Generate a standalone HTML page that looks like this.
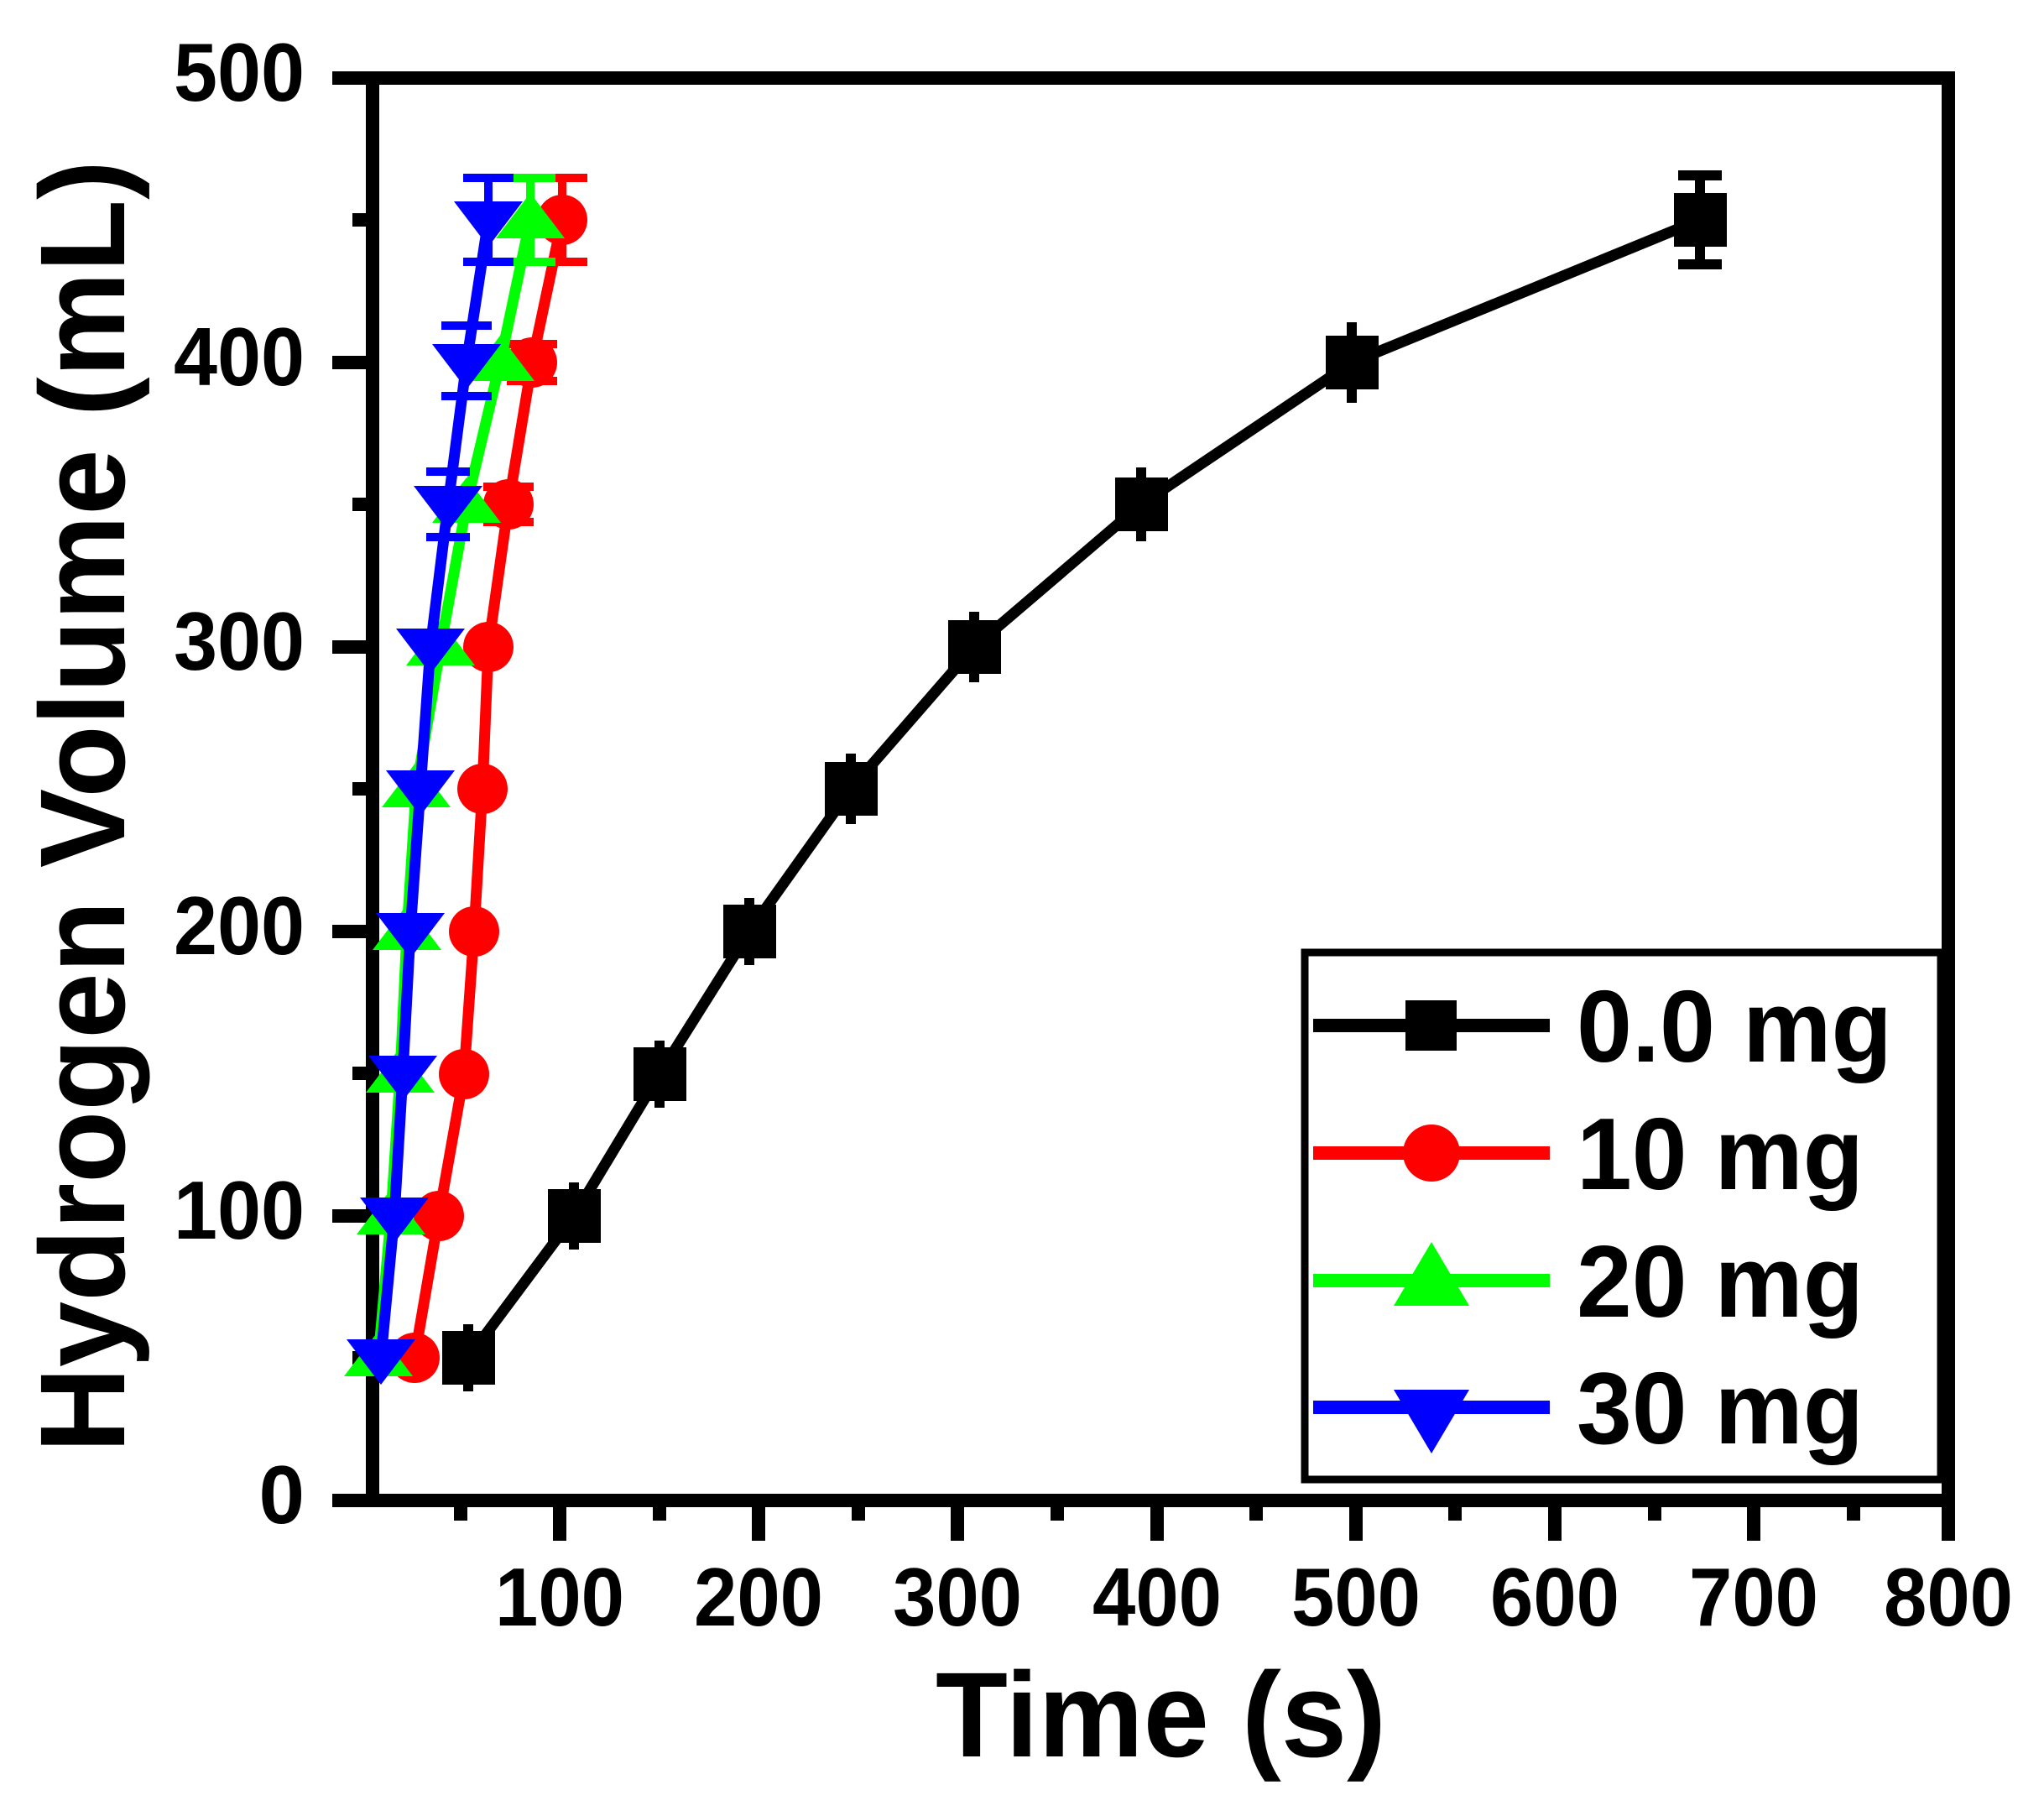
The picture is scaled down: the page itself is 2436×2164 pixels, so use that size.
<!DOCTYPE html>
<html><head><meta charset="utf-8"><style>
html,body{margin:0;padding:0;background:#fff;}
svg{display:block;}
text{font-family:"Liberation Sans",Arial,sans-serif;font-weight:bold;fill:#000;}
</style></head><body>
<svg width="2436" height="2164" viewBox="0 0 2436 2164" xmlns="http://www.w3.org/2000/svg">
<rect width="2436" height="2164" fill="#fff"/>
<rect x="444" y="93" width="1878" height="1695" fill="none" stroke="#000" stroke-width="16"/>
<g stroke="#000" stroke-width="16">
<line x1="396" y1="1788" x2="444" y2="1788"/>
<line x1="396" y1="1449" x2="444" y2="1449"/>
<line x1="396" y1="1110" x2="444" y2="1110"/>
<line x1="396" y1="771" x2="444" y2="771"/>
<line x1="396" y1="432" x2="444" y2="432"/>
<line x1="396" y1="93" x2="444" y2="93"/>
<line x1="420" y1="1618" x2="444" y2="1618"/>
<line x1="420" y1="1279" x2="444" y2="1279"/>
<line x1="420" y1="940" x2="444" y2="940"/>
<line x1="420" y1="601" x2="444" y2="601"/>
<line x1="420" y1="262" x2="444" y2="262"/>
<line x1="667" y1="1788" x2="667" y2="1836"/>
<line x1="904" y1="1788" x2="904" y2="1836"/>
<line x1="1141" y1="1788" x2="1141" y2="1836"/>
<line x1="1379" y1="1788" x2="1379" y2="1836"/>
<line x1="1616" y1="1788" x2="1616" y2="1836"/>
<line x1="1853" y1="1788" x2="1853" y2="1836"/>
<line x1="2090" y1="1788" x2="2090" y2="1836"/>
<line x1="2322" y1="1788" x2="2322" y2="1836"/>
<line x1="549" y1="1788" x2="549" y2="1812"/>
<line x1="786" y1="1788" x2="786" y2="1812"/>
<line x1="1023" y1="1788" x2="1023" y2="1812"/>
<line x1="1260" y1="1788" x2="1260" y2="1812"/>
<line x1="1497" y1="1788" x2="1497" y2="1812"/>
<line x1="1734" y1="1788" x2="1734" y2="1812"/>
<line x1="1972" y1="1788" x2="1972" y2="1812"/>
<line x1="2209" y1="1788" x2="2209" y2="1812"/>
</g>
<g font-size="98" text-anchor="end">
<text x="363" y="1815">0</text>
<text x="363" y="1476" textLength="156" lengthAdjust="spacingAndGlyphs">100</text>
<text x="363" y="1137" textLength="156" lengthAdjust="spacingAndGlyphs">200</text>
<text x="363" y="798" textLength="156" lengthAdjust="spacingAndGlyphs">300</text>
<text x="363" y="459" textLength="156" lengthAdjust="spacingAndGlyphs">400</text>
<text x="363" y="120" textLength="156" lengthAdjust="spacingAndGlyphs">500</text>
</g>
<g font-size="98" text-anchor="middle">
<text x="667" y="1937" textLength="154" lengthAdjust="spacingAndGlyphs">100</text>
<text x="904" y="1937" textLength="154" lengthAdjust="spacingAndGlyphs">200</text>
<text x="1141" y="1937" textLength="154" lengthAdjust="spacingAndGlyphs">300</text>
<text x="1379" y="1937" textLength="154" lengthAdjust="spacingAndGlyphs">400</text>
<text x="1616" y="1937" textLength="154" lengthAdjust="spacingAndGlyphs">500</text>
<text x="1853" y="1937" textLength="154" lengthAdjust="spacingAndGlyphs">600</text>
<text x="2090" y="1937" textLength="154" lengthAdjust="spacingAndGlyphs">700</text>
<text x="2322" y="1937" textLength="154" lengthAdjust="spacingAndGlyphs">800</text>
</g>
<text x="1115" y="2093" font-size="144" textLength="537" lengthAdjust="spacingAndGlyphs">Time (s)</text>
<text transform="translate(148,961) rotate(-90)" x="0" y="0" font-size="144" text-anchor="middle" textLength="1540" lengthAdjust="spacingAndGlyphs">Hydrogen Volume (mL)</text>

<!-- black -->
<polyline fill="none" stroke="#000" stroke-width="13" stroke-linejoin="round" points="558,1618 684,1449 786,1280 893,1110 1014,940 1161,771 1360,601 1611,432 2026,262"/>
<g fill="#000">
<rect x="527" y="1586" width="63" height="64"/><rect x="653" y="1417" width="63" height="64"/>
<rect x="755" y="1248" width="63" height="64"/><rect x="862" y="1078" width="63" height="64"/>
<rect x="983" y="908" width="63" height="64"/><rect x="1130" y="739" width="63" height="64"/>
<rect x="1329" y="569" width="63" height="64"/><rect x="1580" y="400" width="63" height="64"/>
<rect x="1995" y="230" width="63" height="64"/>
</g>
<g stroke="#000" stroke-width="12">
<line x1="558" y1="1578" x2="558" y2="1658"/><line x1="684" y1="1409" x2="684" y2="1489"/>
<line x1="786" y1="1240" x2="786" y2="1320"/><line x1="893" y1="1070" x2="893" y2="1150"/>
<line x1="1014" y1="898" x2="1014" y2="982"/><line x1="1161" y1="729" x2="1161" y2="813"/>
<line x1="1360" y1="557" x2="1360" y2="645"/><line x1="1611" y1="384" x2="1611" y2="480"/>
<line x1="2026" y1="209" x2="2026" y2="315"/><line x1="2000" y1="209" x2="2052" y2="209"/><line x1="2000" y1="315" x2="2052" y2="315"/>
</g>
<!-- red -->
<polyline fill="none" stroke="#f00" stroke-width="13" stroke-linejoin="round" points="494,1618 523,1449 553,1280 565,1110 575,940 582,771 606,601 634,432 670,262"/>
<g fill="#f00">
<circle cx="494" cy="1618" r="30"/><circle cx="523" cy="1449" r="30"/><circle cx="553" cy="1280" r="30"/>
<circle cx="565" cy="1110" r="30"/><circle cx="575" cy="940" r="30"/><circle cx="582" cy="771" r="30"/>
<circle cx="606" cy="601" r="30"/><circle cx="634" cy="432" r="30"/><circle cx="670" cy="262" r="30"/>
</g>
<g stroke="#f00" stroke-width="10">
<line x1="670" y1="212" x2="670" y2="312"/><line x1="640" y1="212" x2="700" y2="212"/><line x1="640" y1="312" x2="700" y2="312"/>
<line x1="604" y1="410" x2="664" y2="410"/><line x1="604" y1="454" x2="664" y2="454"/>
<line x1="576" y1="580" x2="636" y2="580"/><line x1="576" y1="622" x2="636" y2="622"/>
</g>
<!-- green -->
<polyline fill="none" stroke="#0f0" stroke-width="13" stroke-linejoin="round" points="451,1618 466,1449 477,1280 485,1110 496,940 525,771 556,601 596,432 632,262"/>
<g fill="#0f0">
<polygon points="451,1586 492,1640 410,1640"/><polygon points="466,1417 507,1471 425,1471"/>
<polygon points="477,1248 518,1302 436,1302"/><polygon points="485,1078 526,1132 444,1132"/>
<polygon points="496,908 537,962 455,962"/><polygon points="525,739 566,793 484,793"/>
<polygon points="556,569 597,623 515,623"/><polygon points="596,400 637,454 555,454"/>
<polygon points="632,230 673,284 591,284"/>
</g>
<g stroke="#0f0" stroke-width="10">
<line x1="632" y1="212" x2="632" y2="312"/><line x1="602" y1="212" x2="662" y2="212"/><line x1="602" y1="312" x2="662" y2="312"/>
</g>
<!-- blue -->
<polyline fill="none" stroke="#00f" stroke-width="13" stroke-linejoin="round" points="454,1618 470,1449 480,1280 489,1110 501,940 513,771 534,601 556,432 582,262"/>
<g fill="#00f">
<polygon points="454,1650 495,1596 413,1596"/><polygon points="470,1481 511,1427 429,1427"/>
<polygon points="480,1312 521,1258 439,1258"/><polygon points="489,1142 530,1088 448,1088"/>
<polygon points="501,972 542,918 460,918"/><polygon points="513,803 554,749 472,749"/>
<polygon points="534,633 575,579 493,579"/><polygon points="556,464 597,410 515,410"/>
<polygon points="582,294 623,240 541,240"/>
</g>
<g stroke="#00f" stroke-width="10">
<line x1="582" y1="212" x2="582" y2="312"/><line x1="552" y1="212" x2="612" y2="212"/><line x1="552" y1="312" x2="612" y2="312"/>
<line x1="526" y1="388" x2="586" y2="388"/><line x1="526" y1="472" x2="586" y2="472"/>
<line x1="508" y1="562" x2="560" y2="562"/><line x1="508" y1="640" x2="560" y2="640"/>
</g>

<!-- legend -->
<rect x="1555" y="1135" width="758" height="628" fill="#fff" stroke="#000" stroke-width="9"/>
<g stroke-width="16">
<line x1="1565" y1="1222" x2="1847" y2="1222" stroke="#000"/>
<line x1="1565" y1="1374" x2="1847" y2="1374" stroke="#f00"/>
<line x1="1565" y1="1526" x2="1847" y2="1526" stroke="#0f0"/>
<line x1="1565" y1="1677" x2="1847" y2="1677" stroke="#00f"/>
</g>
<rect x="1675" y="1192" width="61" height="60" fill="#000"/>
<circle cx="1706" cy="1374" r="34" fill="#f00"/>
<polygon points="1706,1480 1751,1556 1661,1556" fill="#0f0"/>
<polygon points="1706,1732 1751,1656 1661,1656" fill="#00f"/>
<g font-size="122">
<text x="1879" y="1265" textLength="376" lengthAdjust="spacingAndGlyphs">0.0 mg</text>
<text x="1879" y="1417" textLength="342" lengthAdjust="spacingAndGlyphs">10 mg</text>
<text x="1879" y="1569" textLength="342" lengthAdjust="spacingAndGlyphs">20 mg</text>
<text x="1879" y="1720" textLength="342" lengthAdjust="spacingAndGlyphs">30 mg</text>
</g>
</svg>
</body></html>
